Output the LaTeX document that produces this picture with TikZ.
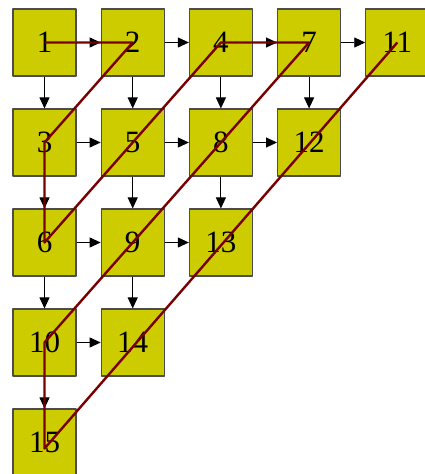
\documentclass[tikz,border=0pt]{standalone}
\usepackage{fontspec}
\setmainfont{Liberation Serif}
\usetikzlibrary{arrows.meta}

\begin{document}
\begin{tikzpicture}[x=1pt, y=-1pt, line join=round,
    cell/.style={draw=black!70, line width=1.1pt, fill={rgb,255:red,204;green,204;blue,0},
                 minimum width=63, minimum height=67, inner sep=0pt,
                 font=\fontsize{31}{36}\selectfont},
    flow/.style={draw=black, line width=0.9pt, -{Triangle[length=11pt,width=10pt]}},
    zig/.style={draw={rgb,255:red,120;green,0;blue,0}, line width=2.4pt}]

  %% ════ cells ════
  \node[cell] (n1)  at (44.5,42.5)  {1};
  \node[cell] (n2)  at (132.7,42.5) {2};
  \node[cell] (n4)  at (220.9,42.5) {4};
  \node[cell] (n7)  at (309.1,42.5) {7};
  \node[cell] (n11) at (397.3,42.5) {11};

  \node[cell] (n3)  at (44.5,142.5)  {3};
  \node[cell] (n5)  at (132.7,142.5) {5};
  \node[cell] (n8)  at (220.9,142.5) {8};
  \node[cell] (n12) at (309.1,142.5) {12};

  \node[cell] (n6)  at (44.5,242.5)  {6};
  \node[cell] (n9)  at (132.7,242.5) {9};
  \node[cell] (n13) at (220.9,242.5) {13};

  \node[cell] (n10) at (44.5,342.5)  {10};
  \node[cell] (n14) at (132.7,342.5) {14};

  \node[cell] (n15) at (44.5,442.5)  {15};

  %% ════ black arrows ════
  \draw[flow] (n1) -- (n2);
  \draw[flow] (n2) -- (n4);
  \draw[flow] (n4) -- (n7);
  \draw[flow] (n7) -- (n11);
  \draw[flow] (n3) -- (n5);
  \draw[flow] (n5) -- (n8);
  \draw[flow] (n8) -- (n12);
  \draw[flow] (n6) -- (n9);
  \draw[flow] (n9) -- (n13);
  \draw[flow] (n10) -- (n14);

  \draw[flow] (n1) -- (n3);
  \draw[flow] (n2) -- (n5);
  \draw[flow] (n4) -- (n8);
  \draw[flow] (n7) -- (n12);
  \draw[flow] (n3) -- (n6);
  \draw[flow] (n5) -- (n9);
  \draw[flow] (n8) -- (n13);
  \draw[flow] (n6) -- (n10);
  \draw[flow] (n9) -- (n14);
  \draw[flow] (n10) -- (n15);

  %% ════ zigzag order ════
  \draw[zig] (n1.center) -- (n2.center) -- (n3.center) -- (n6.center) -- (n4.center)
     -- (n7.center) -- (n10.center) -- ([yshift=-6pt]n15.center) -- (n11.center);

  \pgfresetboundingbox
  \path[use as bounding box] (0,0) rectangle (424,474);
\end{tikzpicture}
\end{document}
